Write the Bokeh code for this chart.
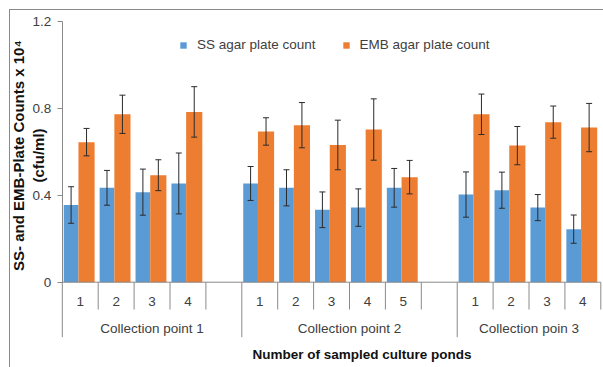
import math
from bokeh.plotting import figure
from bokeh.models import (ColumnDataSource, Range1d, FixedTicker, NumeralTickFormatter,
                          Whisker, TeeHead, Legend, LegendItem, Title)
from bokeh.core.properties import value
from bokeh.embed import file_html
from bokeh.resources import INLINE

# ---------------- data ----------------
groups = ["Collection point 1", "Collection point 2", "Collection poin 3"]
ponds = [["1", "2", "3", "4"], ["1", "2", "3", "4", "5"], ["1", "2", "3", "4"]]
group_slots = [5, 6, 4]   # category slots per group (groups 1 and 2 end with an empty slot)

ss_counts = [0.355, 0.434, 0.414, 0.454,
             0.454, 0.434, 0.333, 0.343, 0.434,
             0.403, 0.423, 0.343, 0.244]
ss_err = [0.084, 0.080, 0.106, 0.140,
          0.078, 0.083, 0.082, 0.086, 0.089,
          0.104, 0.083, 0.060, 0.065]
emb_counts = [0.644, 0.772, 0.492, 0.783,
              0.693, 0.722, 0.631, 0.702, 0.483,
              0.772, 0.628, 0.736, 0.711]
emb_err = [0.063, 0.088, 0.071, 0.116,
           0.063, 0.104, 0.114, 0.141, 0.077,
           0.093, 0.088, 0.074, 0.111]
y_ticks = [0, 0.4, 0.8, 1.2]

series_names = ["SS agar plate count", "EMB agar plate count"]
y_title = ["SS- and EMB-Plate Counts x 10\u2074", "(cfu/ml)"]
x_title = "Number of sampled culture ponds"

# ---------------- styling / layout ----------------
FONT = "Liberation Sans"
BLUE = "#5B9BD5"
ORANGE = "#ED7D31"
GREY = "#8a8a8a"
TXT = "#404040"

slot, pond_lab, group_start = [], [], []
s = 0
for g, ps, n in zip(groups, ponds, group_slots):
    group_start.append(s)
    for i, pl in enumerate(ps):
        slot.append(s + i)
        pond_lab.append(pl)
    s += n
total = s

ss_x = [v + 0.245 for v in slot]
emb_x = [v + 0.675 for v in slot]

src_ss = ColumnDataSource(dict(x=ss_x, top=ss_counts,
                               upper=[a + b for a, b in zip(ss_counts, ss_err)],
                               lower=[a - b for a, b in zip(ss_counts, ss_err)]))
src_emb = ColumnDataSource(dict(x=emb_x, top=emb_counts,
                                upper=[a + b for a, b in zip(emb_counts, emb_err)],
                                lower=[a - b for a, b in zip(emb_counts, emb_err)]))

p = figure(width=603, height=367, output_backend="svg", toolbar_location=None,
           x_range=Range1d(-1.7214, 15.075), y_range=Range1d(-0.268, 1.2952),
           x_axis_location=None,
           min_border_left=0, min_border_right=0, min_border_top=0, min_border_bottom=27)
p.border_fill_color = None
p.background_fill_color = None
p.outline_line_color = None
p.xgrid.visible = False
p.ygrid.visible = False
# thin outer chart border (left and top edges, as in the original)
p.styles = {
    "background": "linear-gradient(#8a8a8a, #8a8a8a) 9px 9px / 1px 100% no-repeat, "
                  "linear-gradient(#8a8a8a, #8a8a8a) 9px 9px / 100% 1px no-repeat, white",
}

# bars
r_ss = p.vbar(x="x", top="top", bottom=0, width=0.41, source=src_ss,
              fill_color=BLUE, line_color=None)
r_emb = p.vbar(x="x", top="top", bottom=0, width=0.45, source=src_emb,
               fill_color=ORANGE, line_color=None)

# error bars
for src in (src_ss, src_emb):
    w = Whisker(source=src, base="x", upper="upper", lower="lower", dimension="height",
                line_color="#2b2b2b", line_width=1, level="annotation",
                upper_head=TeeHead(size=6, line_color="#2b2b2b", line_width=1),
                lower_head=TeeHead(size=6, line_color="#2b2b2b", line_width=1))
    p.add_layout(w)

# baseline and category separators
p.segment(x0=[0], y0=[0], x1=[total], y1=[0], line_color=GREY, line_width=1)
bounds = list(range(0, total + 1))
short_b = [b for b in bounds if b not in group_start]
long_b = [b for b in bounds if b in group_start]
p.segment(x0=short_b, y0=[0] * len(short_b), x1=short_b, y1=[-0.1255] * len(short_b),
          line_color=GREY, line_width=1)
p.segment(x0=long_b, y0=[0] * len(long_b), x1=long_b, y1=[-0.2529] * len(long_b),
          line_color=GREY, line_width=1)

# category labels
p.text(x=[v + 0.5 for v in slot], y=[-0.0874] * len(slot), text=pond_lab,
       text_align="center", text_baseline="middle", text_font=value(FONT),
       text_font_size="13.5px", text_color=TXT)
p.text(x=[st + n / 2 for st, n in zip(group_start, group_slots)], y=[-0.2115] * len(groups),
       text=groups, text_align="center", text_baseline="middle", text_font=value(FONT),
       text_font_size="13.5px", text_color=TXT)

# y axis, fixed at x = 0 inside the frame
ya = p.yaxis[0]
ya.fixed_location = 0
ya.ticker = FixedTicker(ticks=y_ticks)
ya.formatter = NumeralTickFormatter(format="0.[0]")
ya.bounds = (0, 1.2)
ya.axis_line_color = GREY
ya.major_tick_line_color = GREY
ya.major_tick_out = 5
ya.major_tick_in = 0
ya.minor_tick_out = 0
ya.minor_tick_in = 0
ya.major_label_standoff = 6
ya.major_label_text_font = FONT
ya.major_label_text_font_size = "13.5px"
ya.major_label_text_color = TXT

# y title, two lines (second line sits between the tick labels as in the original)
p.text(x=[-1.2117, -0.6546], y=[0.5825, 0.5825], text=y_title, angle=math.pi / 2,
       text_align="center", text_baseline="middle", text_font=value(FONT),
       text_font_size="15px", text_font_style="bold", text_color="#111111")

# x title, below the plot, offset to sit where the original has it
p.add_layout(Title(text=x_title, align="left", offset=252, standoff=8,
                   text_font=FONT, text_font_size="13.5px", text_font_style="bold",
                   text_color="#111111"), "below")

# legend
legend = Legend(items=[LegendItem(label=series_names[0], renderers=[r_ss]),
                       LegendItem(label=series_names[1], renderers=[r_emb])],
                orientation="horizontal", location=(179, 288),
                glyph_width=8, glyph_height=8, label_standoff=10, spacing=26,
                padding=0, margin=0, border_line_color=None, background_fill_alpha=0,
                label_text_font=FONT, label_text_font_size="13.5px", label_text_color=TXT)
p.add_layout(legend)

open("out.html", "w").write(file_html(p, INLINE))
